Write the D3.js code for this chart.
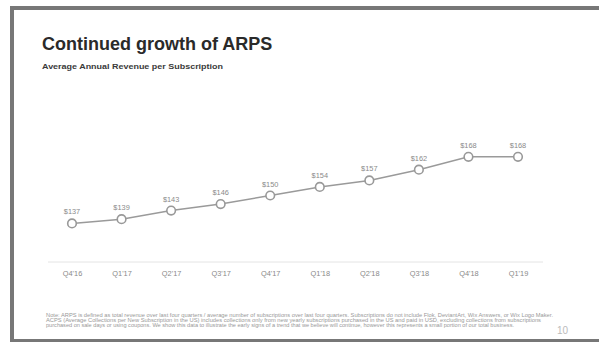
<!DOCTYPE html>
<html>
<head>
<meta charset="utf-8">
<script src="https://cdn.jsdelivr.net/npm/d3@7/dist/d3.min.js"></script>
<style>
  html, body { margin: 0; padding: 0; background: #fff; }
  svg { display: block; font-family: "Liberation Sans", Arial, Helvetica, sans-serif; }
</style>
</head>
<body>
<svg id="chart" width="599" height="342"></svg>
<script>
// Quarterly ARPS (USD)
const quarters = ["Q4'16", "Q1'17", "Q2'17", "Q3'17", "Q4'17", "Q1'18", "Q2'18", "Q3'18", "Q4'18", "Q1'19"];
const arps = [137, 139, 143, 146, 150, 154, 157, 162, 168, 168];

const title = "Continued growth of ARPS";
const subtitle = "Average Annual Revenue per Subscription";
const notes = [
  "Note: ARPS is defined as total revenue over last four quarters / average number of subscriptions over last four quarters. Subscriptions do not include Flok, DeviantArt, Wix Answers, or Wix Logo Maker.",
  "ACPS (Average Collections per New Subscription in the US) includes collections only from new yearly subscriptions purchased in the US and paid in USD, excluding collections from subscriptions",
  "purchased on sale days or using coupons. We show this data to illustrate the early signs of a trend that we believe will continue, however this represents a small portion of our total business."
];
const pageNumber = "10";

const svg = d3.select("#chart");
const W = 599, H = 342;

// slide frame: grey bars on top, left and bottom
svg.append("rect").attr("x", 10).attr("y", 6).attr("width", W - 10).attr("height", 4).attr("fill", "#777");
svg.append("rect").attr("x", 10).attr("y", 6).attr("width", 4).attr("height", H - 6).attr("fill", "#777");
svg.append("rect").attr("x", 10).attr("y", 339).attr("width", W - 10).attr("height", 3).attr("fill", "#777");

svg.append("text").attr("x", 42).attr("y", 50)
  .attr("font-size", 18).attr("font-weight", "bold").attr("fill", "#2a2a2a")
  .text(title);
svg.append("text").attr("x", 42).attr("y", 69)
  .attr("font-size", 7.6).attr("font-weight", "bold").attr("fill", "#3a3a3a")
  .attr("textLength", 181).attr("lengthAdjust", "spacingAndGlyphs")
  .text(subtitle);

// scales
const x = d3.scalePoint().domain(quarters).range([72, 518]);
const y = d3.scaleLinear().domain([120, 170]).range([260, 152.5]);

// baseline axis
const axisY = 262;
const axis = svg.append("g").attr("transform", `translate(0,${axisY})`)
  .call(d3.axisBottom(x).tickSize(0).tickPadding(9));
axis.select(".domain").remove();
axis.selectAll("text").attr("font-size", 7.4).attr("fill", "#8a8a8a")
  .attr("font-family", "'Liberation Sans', Arial, sans-serif");
svg.append("line").attr("x1", 48).attr("x2", 543).attr("y1", axisY).attr("y2", axisY)
  .attr("stroke", "#e4e4e4").attr("stroke-width", 1);

const data = quarters.map((q, i) => ({ q, v: arps[i] }));

svg.append("path").datum(data)
  .attr("fill", "none").attr("stroke", "#9a9a9a").attr("stroke-width", 1.5)
  .attr("d", d3.line().x(d => x(d.q)).y(d => y(d.v)));

svg.selectAll("circle.pt").data(data).join("circle")
  .attr("class", "pt")
  .attr("cx", d => x(d.q)).attr("cy", d => y(d.v)).attr("r", 4.3)
  .attr("fill", "#fff").attr("stroke", "#999").attr("stroke-width", 1.6);

svg.selectAll("text.val").data(data).join("text")
  .attr("class", "val")
  .attr("x", d => x(d.q)).attr("y", d => y(d.v) - 9)
  .attr("text-anchor", "middle").attr("font-size", 7.4).attr("fill", "#8a8a8a")
  .text(d => "$" + d.v);

// footnotes
const noteWidths = [507, 495, 468];
svg.selectAll("text.note").data(notes).join("text")
  .attr("class", "note")
  .attr("x", 46).attr("y", (d, i) => 317 + i * 5)
  .attr("font-size", 4.6).attr("fill", "#999")
  .attr("textLength", (d, i) => noteWidths[i]).attr("lengthAdjust", "spacingAndGlyphs")
  .text(d => d);

svg.append("text").attr("x", 568).attr("y", 334).attr("text-anchor", "end")
  .attr("font-size", 10).attr("fill", "#bbb").text(pageNumber);
</script>
</body>
</html>
